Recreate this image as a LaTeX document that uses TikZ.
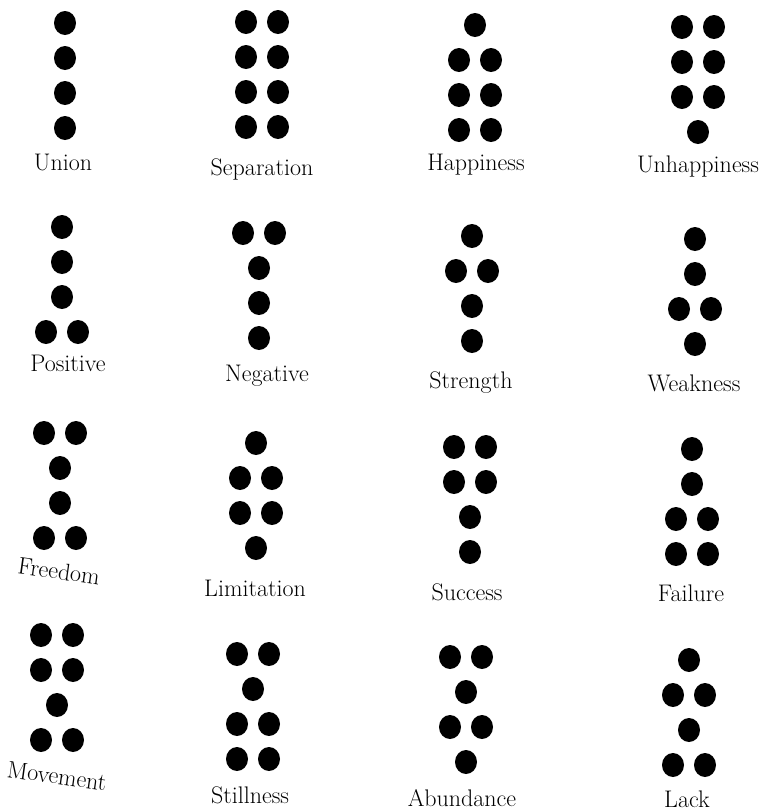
\documentclass[tikz,border=0pt]{standalone}
\usetikzlibrary{calc}
\begin{document}
\begin{tikzpicture}[x=1pt,y=-1pt]
  \tikzstyle{pip}=[fill=black]
  \tikzstyle{figname}=[font=\fontsize{24}{26}\selectfont,anchor=base,inner sep=0pt]
  \tikzstyle{tilted}=[figname,anchor=center,rotate=-8]

  \def\dy{35}
  \def\dx{16}
  \def\rx{11pt}
  \def\ry{12pt}

  \useasboundingbox (0,0) rectangle (767,812);

  % FIGURES
  \foreach \cx/\cy/\rows in {
      65/23/{1,1,1,1}, 262/22/{2,2,2,2}, 475/25/{1,2,2,2}, 698/27/{2,2,2,1},
      62/227/{1,1,1,2}, 259/233/{2,1,1,1}, 472/236/{1,2,1,1}, 695/239/{1,1,2,1},
      60/433/{2,1,1,2}, 256/443/{1,2,2,1}, 470/447/{2,2,1,1}, 692/449/{1,1,2,2},
      57/635/{2,2,1,2}, 253/654/{2,1,2,2}, 466/657/{2,1,2,1}, 689/660/{1,2,1,2}}{
      \foreach \r [count=\j, evaluate={\y=\cy+(\j-1)*\dy;}] in \rows{
          \ifnum\r=1
            \fill[pip] (\cx,\y) ellipse [x radius=\rx, y radius=\ry];
          \else
            \fill[pip] (\cx-\dx,\y) ellipse [x radius=\rx, y radius=\ry]
                       (\cx+\dx,\y) ellipse [x radius=\rx, y radius=\ry];
          \fi
        }
    }

  % NAMES
  \node[figname] (union) at (63,170) {Union};
  \node[figname] (separation) at (262,175) {Separation};
  \node[figname] (happiness) at (476,170) {Happiness};
  \node[figname] (unhappiness) at (698,172) {Unhappiness};

  \node[figname] (positive) at (68,371) {Positive};
  \node[figname] (negative) at (267,381) {Negative};
  \node[figname] (strength) at (471,388) {Strength};
  \node[figname] (weakness) at (694,391) {Weakness};

  \node[tilted] (freedom) at (59,571) {Freedom};
  \node[figname] (limitation) at (255,596) {Limitation};
  \node[figname] (success) at (467,600) {Success};
  \node[figname] (failure) at (691,601) {Failure};

  \node[tilted] (movement) at (57,776) {Movement};
  \node[figname] (stillness) at (250,803) {Stillness};
  \node[figname] (abundance) at (462,806) {Abundance};
  \node[figname] (lack) at (687,807) {Lack};
\end{tikzpicture}
\end{document}
